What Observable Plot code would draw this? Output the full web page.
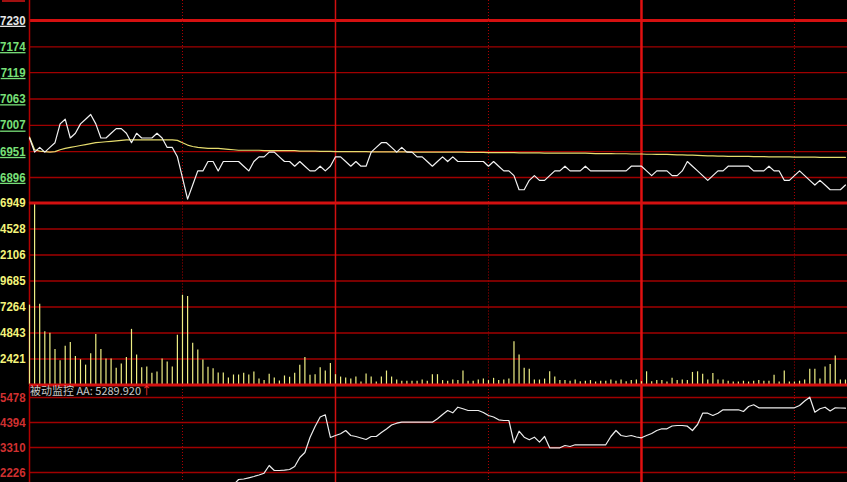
<!DOCTYPE html>
<html><head><meta charset="utf-8">
<script src="https://cdn.jsdelivr.net/npm/d3@7"></script>
<script src="https://cdn.jsdelivr.net/npm/@observablehq/plot@0.6"></script>
<style>
html,body{margin:0;padding:0;background:#000;}
#chart{position:relative;width:847px;height:482px;background:#000;overflow:hidden;}
#chart svg{position:absolute;left:0;top:0;}
#title{position:absolute;left:30px;top:384px;font-family:"Noto Sans CJK SC";font-size:11px;color:#c8c8c8;white-space:nowrap;line-height:13px;}
#title .arrow{color:#ff3030;}
#topmark{position:absolute;left:2px;top:0;width:23px;height:0;border-top:2px solid #a01010;}
</style></head>
<body><div id="chart"><div id="topmark"></div><div id="title">被动监控 AA: 5289.920<span class="arrow">↑</span></div></div>
<script>
// ---- data (one value per 2-minute bar) ----
const price = [
 6980,6950,6960,6950,6960,6970,7010,7020,6980,6990,
 7010,7020,7030,7010,6980,6980,6990,7000,7000,6990,
 6970,6990,6980,6980,6980,6990,6980,6960,6960,6940,
 6895,6850,6880,6910,6910,6930,6930,6910,6930,6930,
 6930,6930,6920,6910,6930,6940,6940,6950,6950,6940,
 6930,6930,6920,6930,6920,6910,6910,6920,6910,6920,
 6940,6940,6930,6920,6930,6920,6920,6950,6960,6970,
 6970,6960,6950,6960,6950,6950,6940,6940,6930,6920,
 6930,6940,6930,6940,6930,6930,6930,6930,6930,6930,
 6920,6930,6920,6910,6910,6900,6870,6870,6890,6900,
 6890,6890,6900,6910,6910,6920,6910,6910,6910,6920,
 6910,6910,6910,6910,6910,6910,6910,6910,6920,6920,
 6920,6910,6900,6910,6910,6910,6900,6900,6910,6930,
 6920,6910,6900,6890,6900,6910,6910,6920,6920,6920,
 6920,6920,6910,6910,6910,6920,6910,6910,6890,6890,
 6900,6910,6900,6890,6880,6890,6880,6870,6870,6870,6880];
const avgPrice = [
 6982,6955,6952,6951,6950,6951,6955,6958,6960,6962,
 6964,6966,6968,6970,6971,6972,6973,6974,6975,6976,
 6976,6976,6976,6976,6976,6976,6976,6976,6976,6975,
 6970,6965,6962,6960,6959,6958,6958,6958,6957,6956,
 6955,6954,6954,6954,6954,6954,6953,6953,6953,6953,
 6953,6953,6953,6952,6952,6952,6952,6951.5,6951.5,6951.5,
 6951,6951,6951,6951,6951,6951,6951,6950.5,6950.5,6950.5,
 6950.5,6950.5,6950.5,6950.5,6950.5,6950,6950,6950,6950,6950,
 6950,6950,6950,6950,6950,6950,6949.5,6949.5,6949.5,6949.5,
 6949,6949,6949,6949,6949,6949,6948.5,6948.5,6948.5,6948.5,
 6948.5,6948,6948,6948,6948,6948,6948,6948,6948,6948,
 6947.5,6947,6947,6947,6947,6946.5,6946.5,6946.5,6946,6946,
 6946,6945.5,6945.5,6945,6945,6945,6944.5,6944,6944,6943.5,
 6943.5,6943,6942.5,6942,6942,6941.5,6941.5,6941,6941,6941,
 6941,6941,6940.5,6940.5,6940.5,6940,6940,6940,6940,6940,
 6939.5,6939.5,6939.5,6939.5,6939.5,6939,6939,6939,6939,6939,6939];
const volume = [
 7440,16949,7520,4950,4830,3310,2260,3620,3960,2660,
 2350,1850,2910,4710,3310,2420,2420,1550,1950,2570,
 5180,2790,1610,1680,1090,1200,2420,2140,1680,4640,
 8360,8240,3880,3250,2320,1650,1520,1110,1110,650,
 930,930,1090,930,1200,550,430,1000,650,380,
 840,720,1090,1850,2570,900,960,1610,1300,2010,
 960,740,650,550,740,280,1030,740,280,740,
 1300,740,460,350,350,350,350,460,350,960,
 960,410,350,460,410,1300,350,350,460,550,
 410,620,410,460,550,4020,2790,1550,1460,460,
 460,550,1230,740,410,410,360,460,310,360,
 410,280,350,350,460,350,460,310,410,460,
 310,1230,310,410,410,280,620,410,460,410,
 1170,1230,1000,460,1060,460,460,350,280,280,
 350,280,350,410,350,350,900,280,1300,280,
 280,350,460,1460,1460,550,1680,1920,2690,460,460];
const aa = [
 null,null,null,null,null,null,null,null,null,null,
 null,null,null,null,null,null,null,null,null,null,
 null,null,null,null,null,null,null,null,null,null,
 null,null,null,null,null,null,null,null,null,null,
 1690,1923,1944,1996,2053,2118,2196,2530,2313,2313,
 2326,2356,2486,2876,3093,3744,4221,4633,4728,3744,
 3830,3904,4047,3830,3787,3722,3657,3787,3787,3960,
 4112,4286,4364,4407,4407,4407,4407,4407,4407,4407,
 4554,4741,4914,4815,5057,4988,4914,4914,4914,4828,
 4698,4633,4511,4481,4481,3514,4017,3757,3644,3757,
 3540,3787,3297,3297,3297,3397,3353,3427,3427,3427,
 3427,3427,3427,3427,3787,4047,3830,3787,3830,3765,
 3731,3830,3917,4047,4121,4121,4242,4264,4264,4234,
 4047,4307,4797,4797,4697,4797,4945,4945,4945,4945,
 4871,5088,5162,5031,5031,5031,5031,5031,5031,5031,
 5031,5131,5326,5491,4840,4988,5057,4893,5031,5023,5014];
const priceTicks = [7230, 7174, 7119, 7063, 7007, 6951, 6896];
const priceTickLabels = ["7230", "7174", "7119", "7063", "7007", "6951", "6896"];
const volumeTicks = [16949, 14528, 12106, 9685, 7264, 4843, 2421];
const volumeTickLabels = ["6949", "4528", "2106", "9685", "7264", "4843", "2421"];
const aaTicks = [5478, 4394, 3310, 2226];
const aaTickLabels = ["5478", "4394", "3310", "2226"];
const dottedMarks = [30, 90, 150];
const solidMarks = [60];
const dayMarks = [120];
const borderMarks = [0];

// ---- layout ----
const W = 847, H = 482;
const idx = d3.range(price.length);
const xDomain = [0, 160.4];
const gridColor = "#a00000";
const sepColor = "#d41010";
const labelFont = {fontFamily: "Liberation Sans", fontSize: 13, fontWeight: "bold"};

function verticals() {
  return [
    Plot.ruleX(borderMarks, {stroke: "#b00000", strokeWidth: 1.5}),
    Plot.ruleX(dottedMarks, {stroke: "#b00000", strokeWidth: 1, strokeDasharray: "1,2"}),
    Plot.ruleX(solidMarks, {stroke: "#d01010", strokeWidth: 1.5}),
    Plot.ruleX(dayMarks, {stroke: "#e01010", strokeWidth: 2.5})
  ];
}
function base(opts) {
  return Object.assign({
    width: W, height: H, marginLeft: 29, marginRight: 0,
    x: {domain: xDomain, axis: null},
    style: {background: "transparent", overflow: "visible"}
  }, opts);
}
function labels(ticks, texts, fill) {
  const rows = ticks.map((t, i) => ({t, s: texts[i]}));
  return Plot.text(rows, Object.assign({y: "t", text: "s", frameAnchor: "left", dx: -4, textAnchor: "end", fill}, labelFont));
}
function condense(svg, s) {
  d3.select(svg).selectAll('g[aria-label="text"] text').each(function() {
    const t = this.getAttribute("transform") || "";
    const x = +(this.getAttribute("x") || 0);
    if (x) this.setAttribute("x", x / s);
    this.setAttribute("transform", t + " scale(" + s + ",1)");
  });
}

const p1 = Plot.plot(base({
  marginTop: 0, marginBottom: H - 203,
  y: {domain: [6840.7, 7272.5], axis: null},
  marks: [
    Plot.ruleY(priceTicks.slice(1), {stroke: gridColor, strokeWidth: 1.3}),
    Plot.ruleY(priceTicks.slice(0, 1), {stroke: sepColor, strokeWidth: 3}),
    ...verticals(),
    Plot.line(idx, {x: i => i, y: i => avgPrice[i], stroke: "#e6dc6e", strokeWidth: 1.2}),
    Plot.line(idx, {x: i => i, y: i => price[i], stroke: "#f2f2f2", strokeWidth: 1.2}),
    labels(priceTicks.slice(0, 1), priceTickLabels.slice(0, 1), "#e6e6e6"),
    labels(priceTicks.slice(1), priceTickLabels.slice(1), "#78e078")
  ]
}));
d3.select(p1).selectAll('g[aria-label="text"] text').style("text-decoration", "underline");
condense(p1, 0.88);

const p2 = Plot.plot(base({
  marginTop: 202.5, marginBottom: H - 384.5,
  y: {domain: [0, 16949], axis: null},
  marks: [
    Plot.ruleY(volumeTicks.slice(1), {stroke: gridColor, strokeWidth: 1.3}),
    ...verticals(),
    Plot.ruleX(idx, {x: i => i, y1: 0, y2: i => volume[i], stroke: "#eeee84", strokeWidth: 1.2}),
    Plot.ruleY(volumeTicks.slice(0, 1), {stroke: sepColor, strokeWidth: 3}),
    Plot.ruleY([0], {stroke: sepColor, strokeWidth: 3}),
    labels(volumeTicks, volumeTickLabels, "#f4f47a")
  ]
}));
condense(p2, 0.88);

const p3 = Plot.plot(base({
  marginTop: 386, marginBottom: 0,
  y: {domain: [1792.4, 5955], axis: null},
  marks: [
    Plot.ruleY(aaTicks, {stroke: gridColor, strokeWidth: 1.3}),
    ...verticals(),
    Plot.line(idx, {x: i => i, y: i => aa[i], stroke: "#ececec", strokeWidth: 1.2, clip: true}),
    labels(aaTicks, aaTickLabels, "#d03030")
  ]
}));
condense(p3, 0.88);

const chart = document.getElementById("chart");
const title = document.getElementById("title");
[p1, p2, p3].forEach(s => chart.insertBefore(s, title));
</script>
</body></html>
